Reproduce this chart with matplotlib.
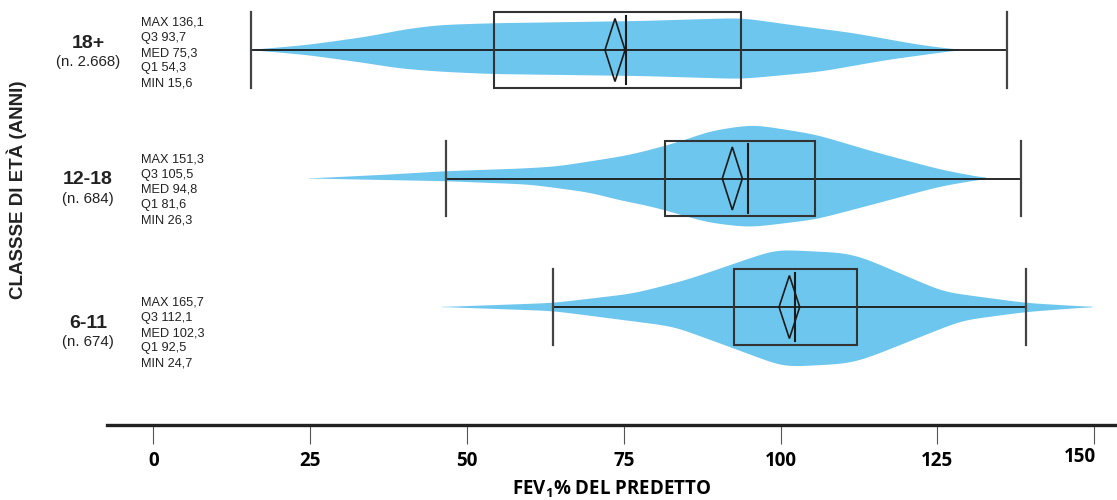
import numpy as np
import matplotlib.pyplot as plt
from matplotlib.patches import Rectangle, Polygon
from matplotlib.transforms import ScaledTranslation

# age classes, top to bottom
groups = ['18+', '12-18', '6-11']
counts = ['(n. 2.668)', '(n. 684)', '(n. 674)']

# summary statistics printed next to each class
stat_max = [136.1, 151.3, 165.7]
stat_q3 = [93.7, 105.5, 112.1]
stat_med = [75.3, 94.8, 102.3]
stat_q1 = [54.3, 81.6, 92.5]
stat_min = [15.6, 26.3, 24.7]

# whisker ends, mean and half width of the mean diamond
whisker_lo = [15.6, 46.6, 63.7]
whisker_hi = [136.1, 138.4, 139.1]
mean_val = [73.6, 92.3, 101.4]
mean_ci = [1.6, 1.6, 1.65]

# violin outlines: (FEV1 %, density) above and below the centre line
violin_upper = [
    [(15.4, 0), (24.5, 5), (34.1, 13.3), (40.4, 21), (45.7, 25), (53.7, 26.7),
     (77.6, 29), (93.8, 32), (102.9, 24), (111.5, 17), (122.2, 5), (128.6, 0)],
    [(24.7, 0), (37.7, 4), (46.6, 7.3), (58.9, 10), (64.4, 12), (74.9, 22.3),
     (77.6, 26), (81.2, 32), (85.6, 40), (88.3, 47), (95.6, 54), (105.6, 44),
     (114.7, 27), (125.4, 9), (132.9, 0)],
    [(45.9, 0), (63.7, 4), (76.6, 13.5), (85.0, 27), (99.2, 57.4), (110.4, 54),
     (113.3, 49), (126.0, 15), (139.1, 4), (149.8, 0)],
]
violin_lower = [
    [(15.4, 0), (24.5, 5), (34.1, 13.3), (39.0, 18.3), (45.7, 21.7), (53.7, 24),
     (77.6, 26), (93.8, 29), (106.3, 21.7), (116.9, 10), (128.6, 0)],
    [(24.7, 0), (46.6, 2.7), (60.0, 6), (69.6, 14), (74.9, 22.7), (77.6, 25.5),
     (81.2, 31), (88.3, 44), (95.0, 49), (105.6, 41), (114.7, 26), (125.4, 8),
     (132.9, 0)],
    [(45.9, 0), (63.7, 4), (83.0, 19.6), (92.1, 40.5), (100.5, 60), (110.4, 56.8),
     (113.3, 52.4), (128.9, 13.5), (139.1, 5), (149.8, 0)],
]

xticks = [0, 25, 50, 75, 100, 125, 150]


def smooth_outline(points, sigma=1.8):
    """Resample an outline on a fine grid and round off its corners."""
    pts = np.array(points)
    xs = np.linspace(pts[0, 0], pts[-1, 0], 600)
    d = np.interp(xs, pts[:, 0], pts[:, 1])
    step = xs[1] - xs[0]
    k = np.arange(-int(3 * sigma / step), int(3 * sigma / step) + 1) * step
    kern = np.exp(-0.5 * (k / sigma) ** 2)
    kern /= kern.sum()
    d = np.convolve(np.pad(d, len(k) // 2, mode='edge'), kern, mode='valid')
    d[0] = d[-1] = 0
    return xs, d


label_font = 'Open Sans'
text_font = 'Liberation Sans'
plt.rcParams['mathtext.fontset'] = 'custom'
plt.rcParams['mathtext.bf'] = label_font + ':bold'
plt.rcParams['mathtext.rm'] = label_font + ':bold'

W, H = 1117, 500
fig = plt.figure(figsize=(W / 100, H / 100), dpi=100)
ax = fig.add_axes([107 / W, 75 / H, 1010 / W, 425 / H])

rows = [2, 1, 0]
dens_scale = 1 / 128.5
violin_color = '#6DC6EE'

for i, y0 in enumerate(rows):
    ux, ud = smooth_outline(violin_upper[i])
    lx, ld = smooth_outline(violin_lower[i])
    pts = np.vstack([
        np.column_stack([ux, y0 + ud * dens_scale]),
        np.column_stack([lx[::-1], y0 - ld[::-1] * dens_scale]),
    ])
    ax.add_patch(Polygon(pts, closed=True, facecolor=violin_color,
                         edgecolor='none', zorder=1))

    # whisker line and end caps
    ax.plot([whisker_lo[i], whisker_hi[i]], [y0, y0], color='#1a1a1a', lw=1.3, zorder=2)
    for xw in (whisker_lo[i], whisker_hi[i]):
        ax.plot([xw, xw], [y0 - 0.292, y0 + 0.292], color='#444444', lw=1.6, zorder=2)

    # interquartile box and median
    ax.add_patch(Rectangle((stat_q1[i], y0 - 0.292), stat_q3[i] - stat_q1[i], 0.584,
                           fill=False, edgecolor='#333333', lw=1.5, zorder=3))
    ax.plot([stat_med[i], stat_med[i]], [y0 - 0.265, y0 + 0.265], color='#1a1a1a',
            lw=1.5, zorder=3)

    # mean diamond
    m, c = mean_val[i], mean_ci[i]
    dia = [(m - c, y0), (m, y0 + 0.245), (m + c, y0), (m, y0 - 0.245)]
    ax.add_patch(Polygon(dia, closed=True, fill=False, edgecolor='#1a1a1a',
                         lw=1.2, zorder=4))

ax.set_xlim((107 - 153.3) / 6.273, (W - 153.3) / 6.273)
ax.set_ylim((307 - 425) / 128.5, 307 / 128.5)

for side in ('top', 'right', 'left'):
    ax.spines[side].set_visible(False)
ax.spines['bottom'].set_linewidth(2.4)
ax.spines['bottom'].set_color('#222222')
ax.set_yticks([])
ax.set_xticks(xticks)
ax.set_xticklabels([str(t) for t in xticks], family=label_font,
                   fontweight='bold', fontsize=13.5)
ax.tick_params(axis='x', direction='out', length=14, width=0.8, color='#555555',
               pad=5)

# the last label sits flush against the right edge
last = ax.get_xticklabels()[-1]
last.set_horizontalalignment('right')
last.set_transform(last.get_transform() + ScaledTranslation(2 / 100, 4 / 100,
                                                            fig.dpi_scale_trans))

ax.set_xlabel('FEV$_{\\mathbf{1}}$% DEL PREDETTO', family=label_font,
              fontweight='bold', fontsize=13.5, labelpad=5)

# class labels and statistics on the left
med_y_px = [53, 190, 333]
for i in range(3):
    yc = 1 - med_y_px[i] / H
    fig.text(88 / W, yc + 10 / H, groups[i], ha='center', va='center',
             fontsize=14, fontweight='bold', family=text_font, color='#222222')
    fig.text(88 / W, yc - 9 / H, counts[i], ha='center', va='center',
             fontsize=10.8, family=text_font, color='#222222')
    lines = [
        'MAX ' + str(stat_max[i]).replace('.', ','),
        'Q3 ' + str(stat_q3[i]).replace('.', ','),
        'MED ' + str(stat_med[i]).replace('.', ','),
        'Q1 ' + str(stat_q1[i]).replace('.', ','),
        'MIN ' + str(stat_min[i]).replace('.', ','),
    ]
    fig.text(141 / W, yc, '\n'.join(lines), ha='left', va='center',
             fontsize=9.2, linespacing=1.34, family=text_font, color='#222222')

fig.text(17 / W, 1 - 190 / H, 'CLASSSE DI ETÀ (ANNI)', rotation=90, ha='center',
         va='center', fontsize=13.5, fontweight='bold', family=text_font,
         color='#222222')

fig.savefig('out.png', dpi=100)
